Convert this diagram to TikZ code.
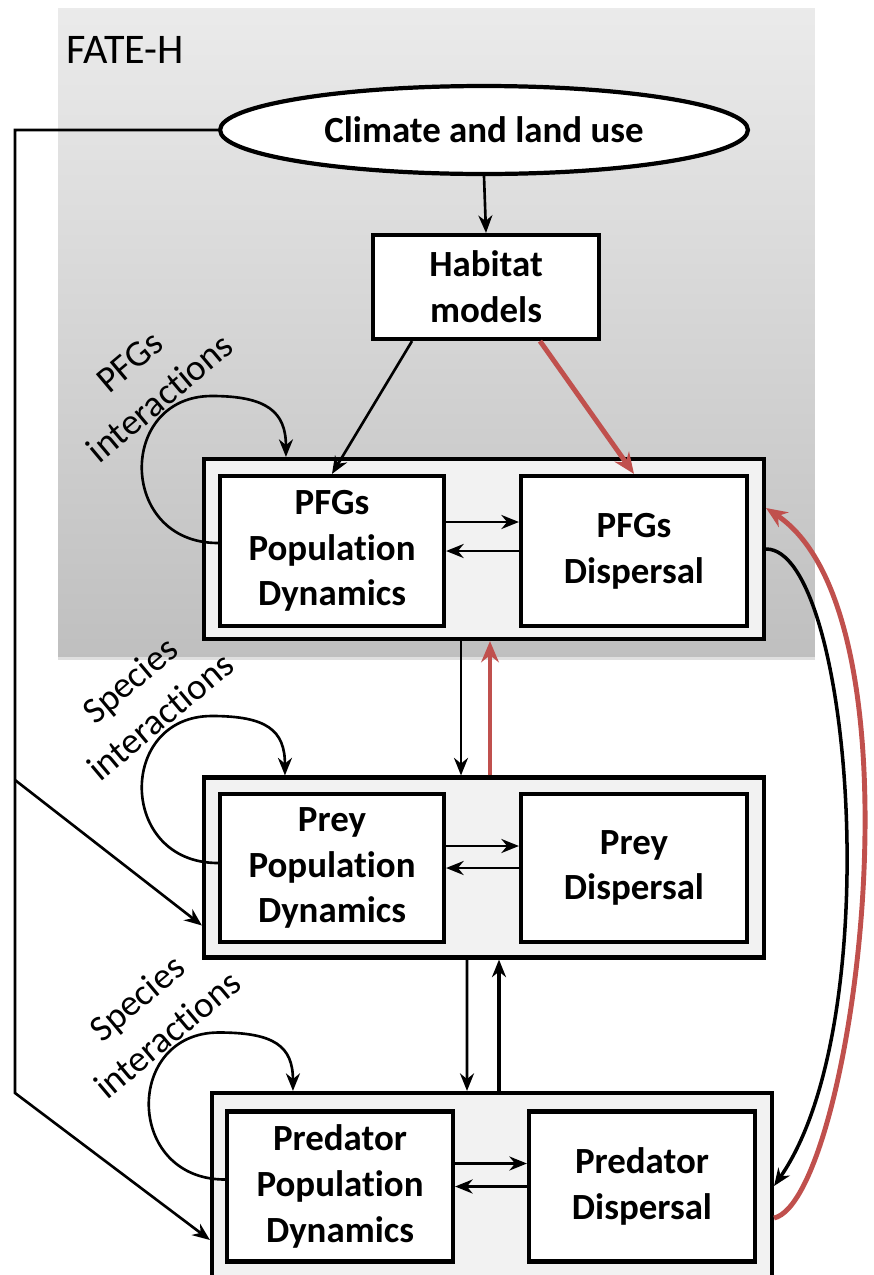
\documentclass[tikz,border=0pt]{standalone}
\usepackage{fontspec}
\setmainfont{Carlito}[Ligatures=NoCommon]
\usetikzlibrary{arrows.meta,calc,shapes.geometric,shadows}
\definecolor{fatered}{HTML}{C0504D}

\tikzset{
  box/.style={draw, line width=2.4pt, fill=white, align=center, inner sep=0pt,
    font=\bfseries\fontsize{21}{26}\selectfont},
  group/.style={draw, line width=2.4pt, fill=black!5, minimum width=11.2cm, minimum height=3.6cm},
  arr/.style={-{Stealth[length=10pt,width=8pt]}, line width=1.5pt},
  redarr/.style={-{Stealth[length=12pt,width=10pt]}, line width=2.8pt, draw=fatered},
  lbl/.style={align=center, rotate=40, font=\fontsize{21}{27}\selectfont}
}

\begin{document}
\begin{tikzpicture}[x=0.02cm, y=-0.02cm]
\clip (0,0) rectangle (874,1275);

% FATE-H frame
\node[top color=black!8, bottom color=black!25, minimum width=15.14cm, minimum height=12.98cm,
  drop shadow={shadow xshift=0pt, shadow yshift=-2pt, opacity=0.25}] (fate) at (436.5,332.5) {};
\node[anchor=west, font=\fontsize{24}{28}\selectfont] (fatelbl) at (60,50) {FATE-H};

\node[ellipse, draw, line width=2.4pt, fill=white, minimum width=10.56cm, minimum height=1.76cm,
  font=\bfseries\fontsize{21}{26}\selectfont] (climate) at (484,130) {Climate and land use};
\node[box, minimum width=4.52cm, minimum height=2.08cm] (habitat) at (486,287) {Habitat\\models};

% modules
\node[group] (pfg) at (484,549) {};
\node[box, minimum width=4.48cm, minimum height=3cm] (pfgpop) at (332,551) {PFGs\\Population\\Dynamics};
\node[box, minimum width=4.52cm, minimum height=3cm] (pfgdisp) at (634,551) {PFGs\\Dispersal};

\node[group] (prey) at (484,867.5) {};
\node[box, minimum width=4.48cm, minimum height=2.96cm] (preypop) at (332,868) {Prey\\Population\\Dynamics};
\node[box, minimum width=4.52cm, minimum height=2.96cm] (preydisp) at (634,868) {Prey\\Dispersal};

\node[group, minimum height=3.72cm] (pred) at (492,1186) {};
\node[box, minimum width=4.52cm, minimum height=3cm] (predpop) at (340,1186.5) {Predator\\Population\\Dynamics};
\node[box, minimum width=4.52cm, minimum height=3cm] (preddisp) at (642,1186.5) {Predator\\Dispersal};

% interaction labels
\node[lbl] (pfglbl) at (145,380) {PFGs\\interactions};
\node[lbl] (spclbl) at (145,698) {Species\\interactions};
\node[lbl] (predlbl) at (152,1016) {Species\\interactions};

% drivers
\draw[arr] (climate.south) -- (habitat.north);
\draw[arr] ([xshift=-1.48cm]habitat.south) -- (pfgpop.north);
\draw[redarr] ([xshift=1.08cm]habitat.south) -- (pfgdisp.north);

\coordinate (lcorner) at (15,1093);
\coordinate (lsplit) at (15,780);
\draw[arr] (climate.west) -| (lcorner) -- ($(pred.west)+(0,54)$);
\draw[arr] (lsplit) -- ($(prey.west)+(0,58)$);

% self loops
\draw[arr] ($(pfgpop.west)+(0,-8)$) .. controls +(-100,0) and +(-95,0) .. ++(-6,-147)
  .. controls +(55,0) and +(0,-45) .. ($(pfg.north west)+(84,0)$);
\draw[arr] ($(preypop.west)+(0,-5)$) .. controls +(-100,0) and +(-95,0) .. ++(-6,-147)
  .. controls +(55,0) and +(0,-45) .. ($(prey.north west)+(83,0)$);
\draw[arr] ($(predpop.west)+(0,-7)$) .. controls +(-100,0) and +(-95,0) .. ++(-6,-147)
  .. controls +(55,0) and +(0,-45) .. ($(pred.north west)+(83,0)$);

% population <-> dispersal
\draw[arr] ($(pfgpop.east)+(0,-29)$) -- ($(pfgdisp.west)+(0,-29)$);
\draw[arr] (pfgdisp.west) -- (pfgpop.east);
\draw[arr] ($(preypop.east)+(0,-22)$) -- ($(preydisp.west)+(0,-22)$);
\draw[arr] (preydisp.west) -- (preypop.east);
\draw[arr] ($(predpop.east)+(0,-23)$) -- ($(preddisp.west)+(0,-23)$);
\draw[arr] (preddisp.west) -- (predpop.east);

% between levels
\draw[arr] ([xshift=-0.46cm]pfg.south) -- ([xshift=-0.46cm]prey.north);
\draw[redarr] ([xshift=0.12cm]prey.north) -- ([xshift=0.12cm]pfg.south);
\draw[arr] ([xshift=-0.34cm]prey.south) -- ([xshift=-0.5cm]pred.north);
\draw[arr, line width=2pt] ([xshift=0.14cm]pred.north) -- ([xshift=0.3cm]prey.south);

% long feedbacks
\draw[arr, line width=2pt] (pfg.east) .. controls +(85,0) and +(115,-165) .. (pred.east);
\draw[redarr] ($(pred.east)+(0,32)$) .. controls +(78,-18) and +(165,110) .. ($(pfg.east)+(0,-41)$);
\end{tikzpicture}
\end{document}
